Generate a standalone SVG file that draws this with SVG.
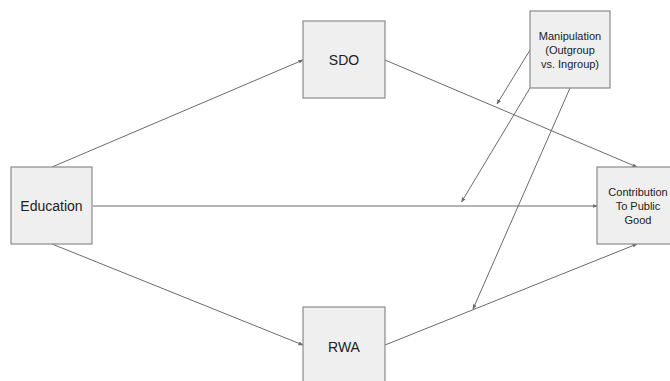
<svg xmlns="http://www.w3.org/2000/svg" width="670" height="381" viewBox="0 0 670 381">
<style>
.box{fill:#efefef;stroke:#8a8a8a;stroke-width:1.2}
.lbl{font-family:"Liberation Sans",Arial,sans-serif;fill:#222;text-anchor:middle}
.big{font-size:14px}
.sm{font-size:11px}
.con{stroke:#6b6b6b;stroke-width:1;fill:none;marker-end:url(#ah)}
</style>
<defs>
<marker id="ah" viewBox="0 0 10 10" refX="9" refY="5" markerWidth="5" markerHeight="5" orient="auto" markerUnits="userSpaceOnUse">
<path d="M0,1 L10,5 L0,9 z" fill="#6b6b6b"/>
</marker>
</defs>
<rect width="670" height="381" fill="#ffffff"/>
<g id="connectors">
<line class="con" x1="52" y1="167" x2="303" y2="60"/>
<line class="con" x1="385" y1="60" x2="637" y2="167"/>
<line class="con" x1="93" y1="206" x2="597" y2="206"/>
<line class="con" x1="52" y1="244" x2="303" y2="345"/>
<line class="con" x1="385" y1="345" x2="637" y2="244"/>
<line class="con" x1="530" y1="50" x2="497" y2="104"/>
<line class="con" x1="530" y1="88" x2="461.5" y2="202"/>
<line class="con" x1="570" y1="88" x2="473" y2="309"/>
</g>
<g id="education">
<rect class="box" x="11" y="167" width="81" height="77"/>
<text class="lbl big" x="51.5" y="211">Education</text>
</g>
<g id="sdo">
<rect class="box" x="303" y="21" width="82" height="77"/>
<text class="lbl big" x="344" y="65">SDO</text>
</g>
<g id="rwa">
<rect class="box" x="303" y="307" width="82" height="80"/>
<text class="lbl big" x="344" y="352">RWA</text>
</g>
<g id="contribution">
<rect class="box" x="597" y="167" width="82" height="77"/>
<text class="lbl sm" x="638" y="196">Contribution</text>
<text class="lbl sm" x="638" y="210">To Public</text>
<text class="lbl sm" x="638" y="224">Good</text>
</g>
<g id="manipulation">
<rect class="box" x="530" y="11" width="80" height="77"/>
<text class="lbl sm" x="570" y="40">Manipulation</text>
<text class="lbl sm" x="570" y="54">(Outgroup</text>
<text class="lbl sm" x="570" y="68">vs. Ingroup)</text>
</g>
</svg>
